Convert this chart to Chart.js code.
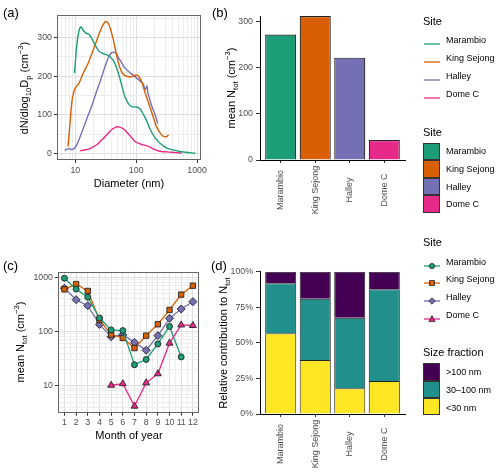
<!DOCTYPE html>
<html>
<head>
<meta charset="utf-8">
<script src="https://cdn.jsdelivr.net/npm/chart.js@4.4.0/dist/chart.umd.min.js"></script>
<style>
body { margin: 0; background: #fff; font-family: "Liberation Sans", Arial, sans-serif; }
#wrap { position: relative; width: 500px; height: 473px; overflow: hidden; }
canvas { position: absolute; }
.t { position: absolute; white-space: nowrap; color: #000; line-height: 1; }
sub, sup { font-size: 70%; line-height: 0; }
</style>
</head>
<body>
<div id="wrap">
  <canvas id="cA" width="215" height="200" style="left:0;top:0"></canvas>
  <canvas id="cB" width="200" height="225" style="left:210px;top:0"></canvas>
  <canvas id="cC" width="215" height="243" style="left:0;top:230px"></canvas>
  <canvas id="cD" width="200" height="243" style="left:210px;top:230px"></canvas>
</div>
<script>
// sites
const sites = ['Marambio', 'King Sejong', 'Halley', 'Dome C'];
const siteColors = ['#1B9E77', '#D95F02', '#7570B3', '#E7298A'];
const sitePoints = ['circle', 'rect', 'rectRot', 'triangle'];

// (a) size distributions, diameter (nm) vs dN/dlogDp
const maramD = [9.7, 10.5, 11.5, 12.5, 13.5, 15, 17, 20, 24, 28, 33, 38, 43, 50, 57, 66, 75, 85, 100, 116, 130, 145, 170, 205, 260, 320, 400, 520, 650, 800, 930];
const maramN = [208, 275, 318, 327, 318, 311, 307, 288, 266, 259, 255, 249, 238, 212, 180, 145, 128, 121, 120, 115, 102, 88, 62, 40, 23, 14, 9, 5, 3, 1.5, 0.5];
const kingD = [7.6, 8.2, 8.8, 9.5, 10.3, 11.3, 12.5, 13.7, 15, 16.5, 18, 20, 22, 24, 27, 30, 32, 35, 38, 42, 46, 50, 55, 60, 66, 73, 80, 90, 100, 110, 124, 140, 160, 185, 215, 250, 280, 310, 340];
const kingN = [18, 80, 135, 160, 172, 180, 195, 210, 222, 236, 252, 270, 288, 305, 325, 338, 341, 336, 320, 295, 265, 240, 218, 207, 201, 199, 198, 200, 203, 199, 184, 157, 130, 100, 70, 52, 44, 43, 48];
const halleyD = [6.7, 7.3, 7.9, 8.6, 9.3, 10, 11, 12, 13.3, 14.6, 16, 17.6, 19.3, 21, 23, 25.7, 28, 31, 35, 40, 44, 48, 51, 56, 62, 68, 75, 85, 97, 109, 120, 132, 140, 146, 150, 155, 160, 170, 181, 195, 210, 226];
const halleyN = [8, 11, 12, 10, 11, 16, 28, 43, 62, 79, 96, 113, 130, 148, 166, 187, 205, 226, 248, 261, 262, 256, 248, 238, 226, 218, 212, 205, 198, 191, 185, 178, 165, 170, 175, 158, 150, 135, 122, 108, 95, 77];
const domeD = [12, 14, 16.5, 19, 22.7, 26, 31, 35, 40, 44, 48, 53, 58, 64, 70, 78, 85, 96, 110, 124, 140, 159, 180, 204, 230, 263, 320, 382, 460, 556];
const domeN = [7, 9, 11, 16, 23, 32, 44, 53, 62, 66, 69, 68, 66, 61, 55, 47, 40, 31, 26, 23, 21, 18, 14, 10, 7, 5, 4, 3, 2, 1];

// (b) mean Ntot
const meanNtot = [271, 311, 221, 43];

// (c) monthly means
const months = [1, 2, 3, 4, 5, 6, 7, 8, 9, 10, 11, 12];
const maramMonthly = [960, 605, 430, 177, 107, 104, 24.4, 30.5, 59, 124, 34, null];
const kingMonthly = [600, 750, 560, 163, 88, 76, 49.5, 84, 136, 250, 480, 700];
const halleyMonthly = [630, 386, 300, 135, 80, 87, 63, 45, 84, 175, 260, 355];
const domeMonthly = [null, null, null, null, 10.2, 10.9, 4.2, 11.3, 16.6, 61, 132, 129];

// (d) size fractions (% of Ntot)
const fractions = ['>100 nm', '30\u2013100 nm', '<30 nm'];
const fractionColors = ['#440154', '#21908C', '#FDE725'];
const fracLt30 = [56.7, 37.9, 18.1, 23.2];
const fracMid = [35.1, 43.1, 49.6, 64.4];
const fracGt100 = [8.2, 19.0, 32.3, 12.4];

Chart.defaults.font.family = '"Liberation Sans", Arial, sans-serif';
Chart.defaults.font.size = 8.8;
Chart.defaults.color = '#4d4d4d';
Chart.defaults.animation = false;
Chart.defaults.events = [];
Chart.defaults.plugins.legend.display = false;
Chart.defaults.plugins.tooltip.enabled = false;

const MAJOR_GRID = '#dedede';
const MINOR_GRID = '#ededed';

const setTicks = vals => s => { s.ticks = vals.map(v => ({ value: v })); };
const logSteps = (from, to) => {
  const out = [];
  for (let p = from; p <= to; p *= 10) for (let k = 1; k < 10; k++) out.push(k * p);
  return out;
};

const panelBorder = {
  id: 'panelBorder',
  afterDraw(chart) {
    const { ctx, chartArea: a } = chart;
    ctx.save();
    ctx.strokeStyle = '#666';
    ctx.lineWidth = 1;
    ctx.strokeRect(Math.round(a.left) + 0.5, Math.round(a.top) + 0.5, Math.round(a.right - a.left) - 1, Math.round(a.bottom - a.top) - 1);
    ctx.restore();
  }
};

// rotated, centred category labels (ggplot style)
const rotLabels = {
  id: 'rotLabels',
  afterDraw(chart) {
    const { ctx } = chart;
    const s = chart.scales.x;
    ctx.save();
    ctx.font = '9px "Liberation Sans", Arial, sans-serif';
    ctx.fillStyle = '#4d4d4d';
    ctx.textAlign = 'center';
    ctx.textBaseline = 'middle';
    sites.forEach((name, i) => {
      ctx.save();
      ctx.translate(s.getPixelForValue(i + 1), s.top + 30);
      ctx.rotate(-Math.PI / 2);
      ctx.fillText(name, 0, 0);
      ctx.restore();
    });
    ctx.restore();
  }
};

// (a)
const aMajor = [10, 100, 1000];
const aYMajor = [0, 100, 200, 300];
new Chart(document.getElementById('cA'), {
  type: 'scatter',
  data: {
    datasets: [[maramD, maramN], [kingD, kingN], [halleyD, halleyN], [domeD, domeN]].map((d, i) => ({
      label: sites[i],
      data: d[0].map((x, j) => ({ x: x, y: d[1][j] })),
      showLine: true,
      pointRadius: 0,
      borderColor: siteColors[i],
      borderWidth: 1.4,
      cubicInterpolationMode: 'monotone'
    }))
  },
  options: {
    responsive: false,
    devicePixelRatio: 1,
    layout: { padding: { top: 15, right: 14, left: 0, bottom: 0 } },
    scales: {
      x: {
        type: 'logarithmic', min: 5, max: 1160,
        afterBuildTicks: setTicks(logSteps(1, 1000).filter(v => v >= 5 && v <= 1000)),
        afterFit: s => { s.height = 40; },
        border: { display: false },
        grid: {
          color: c => aMajor.includes(c.tick.value) ? MAJOR_GRID : MINOR_GRID,
          tickColor: c => aMajor.includes(c.tick.value) ? '#333' : 'rgba(0,0,0,0)',
          tickLength: 3
        },
        ticks: { autoSkip: false, maxRotation: 0, padding: 2, callback: v => aMajor.includes(v) ? String(v) : '' }
      },
      y: {
        min: -17, max: 358,
        afterBuildTicks: setTicks([0, 50, 100, 150, 200, 250, 300, 350]),
        afterFit: s => { s.width = 57; },
        border: { display: false },
        grid: {
          color: c => aYMajor.includes(c.tick.value) ? MAJOR_GRID : MINOR_GRID,
          tickColor: c => aYMajor.includes(c.tick.value) ? '#333' : 'rgba(0,0,0,0)',
          tickLength: 3
        },
        ticks: { autoSkip: false, padding: 2, callback: v => aYMajor.includes(v) ? String(v) : '' }
      }
    }
  },
  plugins: [panelBorder]
});

// (b)
new Chart(document.getElementById('cB'), {
  type: 'bar',
  data: {
    datasets: [{
      data: meanNtot.map((v, i) => ({ x: i + 1, y: v })),
      backgroundColor: siteColors,
      borderColor: '#222',
      borderWidth: 1.2,
      categoryPercentage: 0.9,
      barPercentage: 1
    }]
  },
  options: {
    responsive: false,
    devicePixelRatio: 1,
    layout: { padding: { top: 16, right: 5, left: 0, bottom: 0 } },
    scales: {
      x: {
        type: 'linear', min: 0.4, max: 4.6, offset: false,
        afterBuildTicks: setTicks([1, 2, 3, 4]),
        afterFit: s => { s.height = 65; },
        border: { display: true, color: '#000', width: 1 },
        grid: { offset: false, drawOnChartArea: false, tickColor: '#333', tickLength: 3 },
        ticks: { display: false }
      },
      y: {
        min: 0, max: 311,
        afterBuildTicks: setTicks([0, 100, 200, 300]),
        afterFit: s => { s.width = 50; },
        border: { display: true, color: '#000', width: 1 },
        grid: { drawOnChartArea: false, tickColor: '#333', tickLength: 4 },
        ticks: { padding: 3 }
      }
    }
  },
  plugins: [rotLabels]
});

// (c)
const cMajor = [10, 100, 1000];
const monthlySeries = [maramMonthly, kingMonthly, halleyMonthly, domeMonthly];
const pointSizes = [3, 3.8, 4, 4];
new Chart(document.getElementById('cC'), {
  type: 'scatter',
  data: {
    datasets: monthlySeries.map((vals, i) => ({
      label: sites[i],
      data: months.map((m, j) => ({ x: m, y: vals[j] })).filter(p => p.y !== null),
      showLine: true,
      borderColor: siteColors[i],
      borderWidth: 1.3,
      pointStyle: sitePoints[i],
      pointRadius: pointSizes[i],
      pointBackgroundColor: siteColors[i],
      pointBorderColor: '#222',
      pointBorderWidth: 0.9
    }))
  },
  options: {
    responsive: false,
    devicePixelRatio: 1,
    layout: { padding: { top: 41.7, right: 15.7, left: 0, bottom: 0 } },
    scales: {
      x: {
        min: 0.45, max: 12.55,
        afterBuildTicks: setTicks(months.flatMap(m => [m - 0.5, m]).concat([12.5])),
        afterFit: s => { s.height = 243 - 182.7; },
        border: { display: false },
        grid: {
          color: c => Number.isInteger(c.tick.value) ? MAJOR_GRID : MINOR_GRID,
          tickColor: c => Number.isInteger(c.tick.value) ? '#333' : 'rgba(0,0,0,0)',
          tickLength: 3
        },
        ticks: { autoSkip: false, maxRotation: 0, padding: 2, callback: v => Number.isInteger(v) ? String(v) : '' }
      },
      y: {
        type: 'logarithmic', min: 3.18, max: 1268,
        afterBuildTicks: setTicks(logSteps(1, 1000).filter(v => v >= 4 && v <= 1000)),
        afterFit: s => { s.width = 58; },
        border: { display: false },
        grid: {
          color: c => cMajor.includes(c.tick.value) ? MAJOR_GRID : MINOR_GRID,
          tickColor: c => cMajor.includes(c.tick.value) ? '#333' : 'rgba(0,0,0,0)',
          tickLength: 3
        },
        ticks: { autoSkip: false, padding: 2, callback: v => cMajor.includes(v) ? String(v) : '' }
      }
    }
  },
  plugins: [panelBorder]
});

// (d)
const fracSeries = [fracGt100, fracMid, fracLt30];
new Chart(document.getElementById('cD'), {
  type: 'bar',
  data: {
    datasets: [2, 1, 0].map(k => ({
      label: fractions[k],
      data: fracSeries[k].map((v, i) => ({ x: i + 1, y: v })),
      backgroundColor: fractionColors[k],
      borderColor: '#222',
      borderWidth: 1,
      categoryPercentage: 0.9,
      barPercentage: 1
    }))
  },
  options: {
    responsive: false,
    devicePixelRatio: 1,
    layout: { padding: { top: 41.7, right: 5, left: 0, bottom: 0 } },
    scales: {
      x: {
        type: 'linear', min: 0.4, max: 4.6, offset: false, stacked: true,
        afterBuildTicks: setTicks([1, 2, 3, 4]),
        afterFit: s => { s.height = 243 - 184; },
        border: { display: true, color: '#000', width: 1 },
        grid: { offset: false, drawOnChartArea: false, tickColor: '#333', tickLength: 3 },
        ticks: { display: false }
      },
      y: {
        min: 0, max: 100, stacked: true,
        afterBuildTicks: setTicks([0, 25, 50, 75, 100]),
        afterFit: s => { s.width = 50; },
        border: { display: true, color: '#000', width: 1 },
        grid: { drawOnChartArea: false, tickColor: '#333', tickLength: 4 },
        ticks: { padding: 3, callback: v => v + '%' }
      }
    }
  },
  plugins: [rotLabels]
});

// text: panel tags, axis titles, legends
const wrap = document.getElementById('wrap');
function addText(html, x, y, size, opts = {}) {
  const d = document.createElement('div');
  d.className = 't';
  d.innerHTML = html;
  d.style.fontSize = size + 'px';
  d.style.left = x + 'px';
  d.style.top = y + 'px';
  d.style.transform = opts.rotate ? 'translate(-50%,-50%) rotate(-90deg)' : (opts.center ? 'translate(-50%,-50%)' : 'translate(0,-50%)');
  wrap.appendChild(d);
  return d;
}

addText('(a)', 3, 12, 13);
addText('(b)', 212, 12, 13);
addText('(c)', 3, 265, 13);
addText('(d)', 211, 265, 13);

addText('dN/dlog<sub>10</sub>D<sub>p</sub> (cm<sup>\u22123</sup>)', 24, 88, 11, { rotate: true });
addText('Diameter (nm)', 129, 183, 11, { center: true });
addText('mean N<sub>tot</sub> (cm<sup>\u22123</sup>)', 231, 88, 11, { rotate: true });
addText('mean N<sub>tot</sub> (cm<sup>\u22123</sup>)', 20, 342, 11, { rotate: true });
addText('Month of year', 129, 435, 11, { center: true });
addText('Relative contribution to N<sub>tot</sub>', 223, 343, 11, { rotate: true });

function markerSvg(shape, color) {
  let m = '';
  if (shape === 'circle') m = '<circle cx="8" cy="5" r="2.6"/>';
  else if (shape === 'rect') m = '<rect x="5.6" y="2.6" width="4.8" height="4.8"/>';
  else if (shape === 'rectRot') m = '<polygon points="8,1.8 11.2,5 8,8.2 4.8,5"/>';
  else m = '<polygon points="8,1.6 11.2,7.6 4.8,7.6"/>';
  return '<g fill="' + color + '" stroke="#222" stroke-width="0.8">' + m + '</g>';
}
function keyLine(y, color, shape) {
  const d = document.createElement('div');
  d.style.position = 'absolute';
  d.style.left = '424px';
  d.style.top = (y - 5) + 'px';
  d.innerHTML = '<svg width="16" height="10"><line x1="0" y1="5" x2="16" y2="5" stroke="' + color + '" stroke-width="1.3"/>' +
    (shape ? markerSvg(shape, color) : '') + '</svg>';
  wrap.appendChild(d);
}
function keyBox(top, h, color) {
  const d = document.createElement('div');
  d.style.cssText = 'position:absolute;left:423px;width:15px;box-sizing:content-box;border:1px solid #333;';
  d.style.top = top + 'px';
  d.style.height = (h - 2) + 'px';
  d.style.background = color;
  wrap.appendChild(d);
}

// legend 1: lines (a)
addText('Site', 423, 21, 11);
sites.forEach((s, i) => { keyLine(40 + i * 17.9, siteColors[i]); addText(s, 446, 40 + i * 17.9, 9); });
// legend 2: fills (b)
addText('Site', 423, 131.5, 11);
sites.forEach((s, i) => { keyBox(142.5 + i * 17.6, 17.6, siteColors[i]); addText(s, 446, 151 + i * 17.8, 9); });
// legend 3: lines + markers (c)
addText('Site', 423, 242, 11);
sites.forEach((s, i) => { keyLine(261.7 + i * 17.7, siteColors[i], sitePoints[i]); addText(s, 446, 261.7 + i * 17.7, 9); });
// legend 4: size fraction (d)
addText('Size fraction', 423, 352, 11);
fractions.forEach((f, i) => { keyBox(363.3 + i * 17.3, 17.3, fractionColors[i]); addText(f.replace('<', '&lt;').replace('>', '&gt;'), 446, 372 + i * 17.8, 9); });
</script>
</body>
</html>
